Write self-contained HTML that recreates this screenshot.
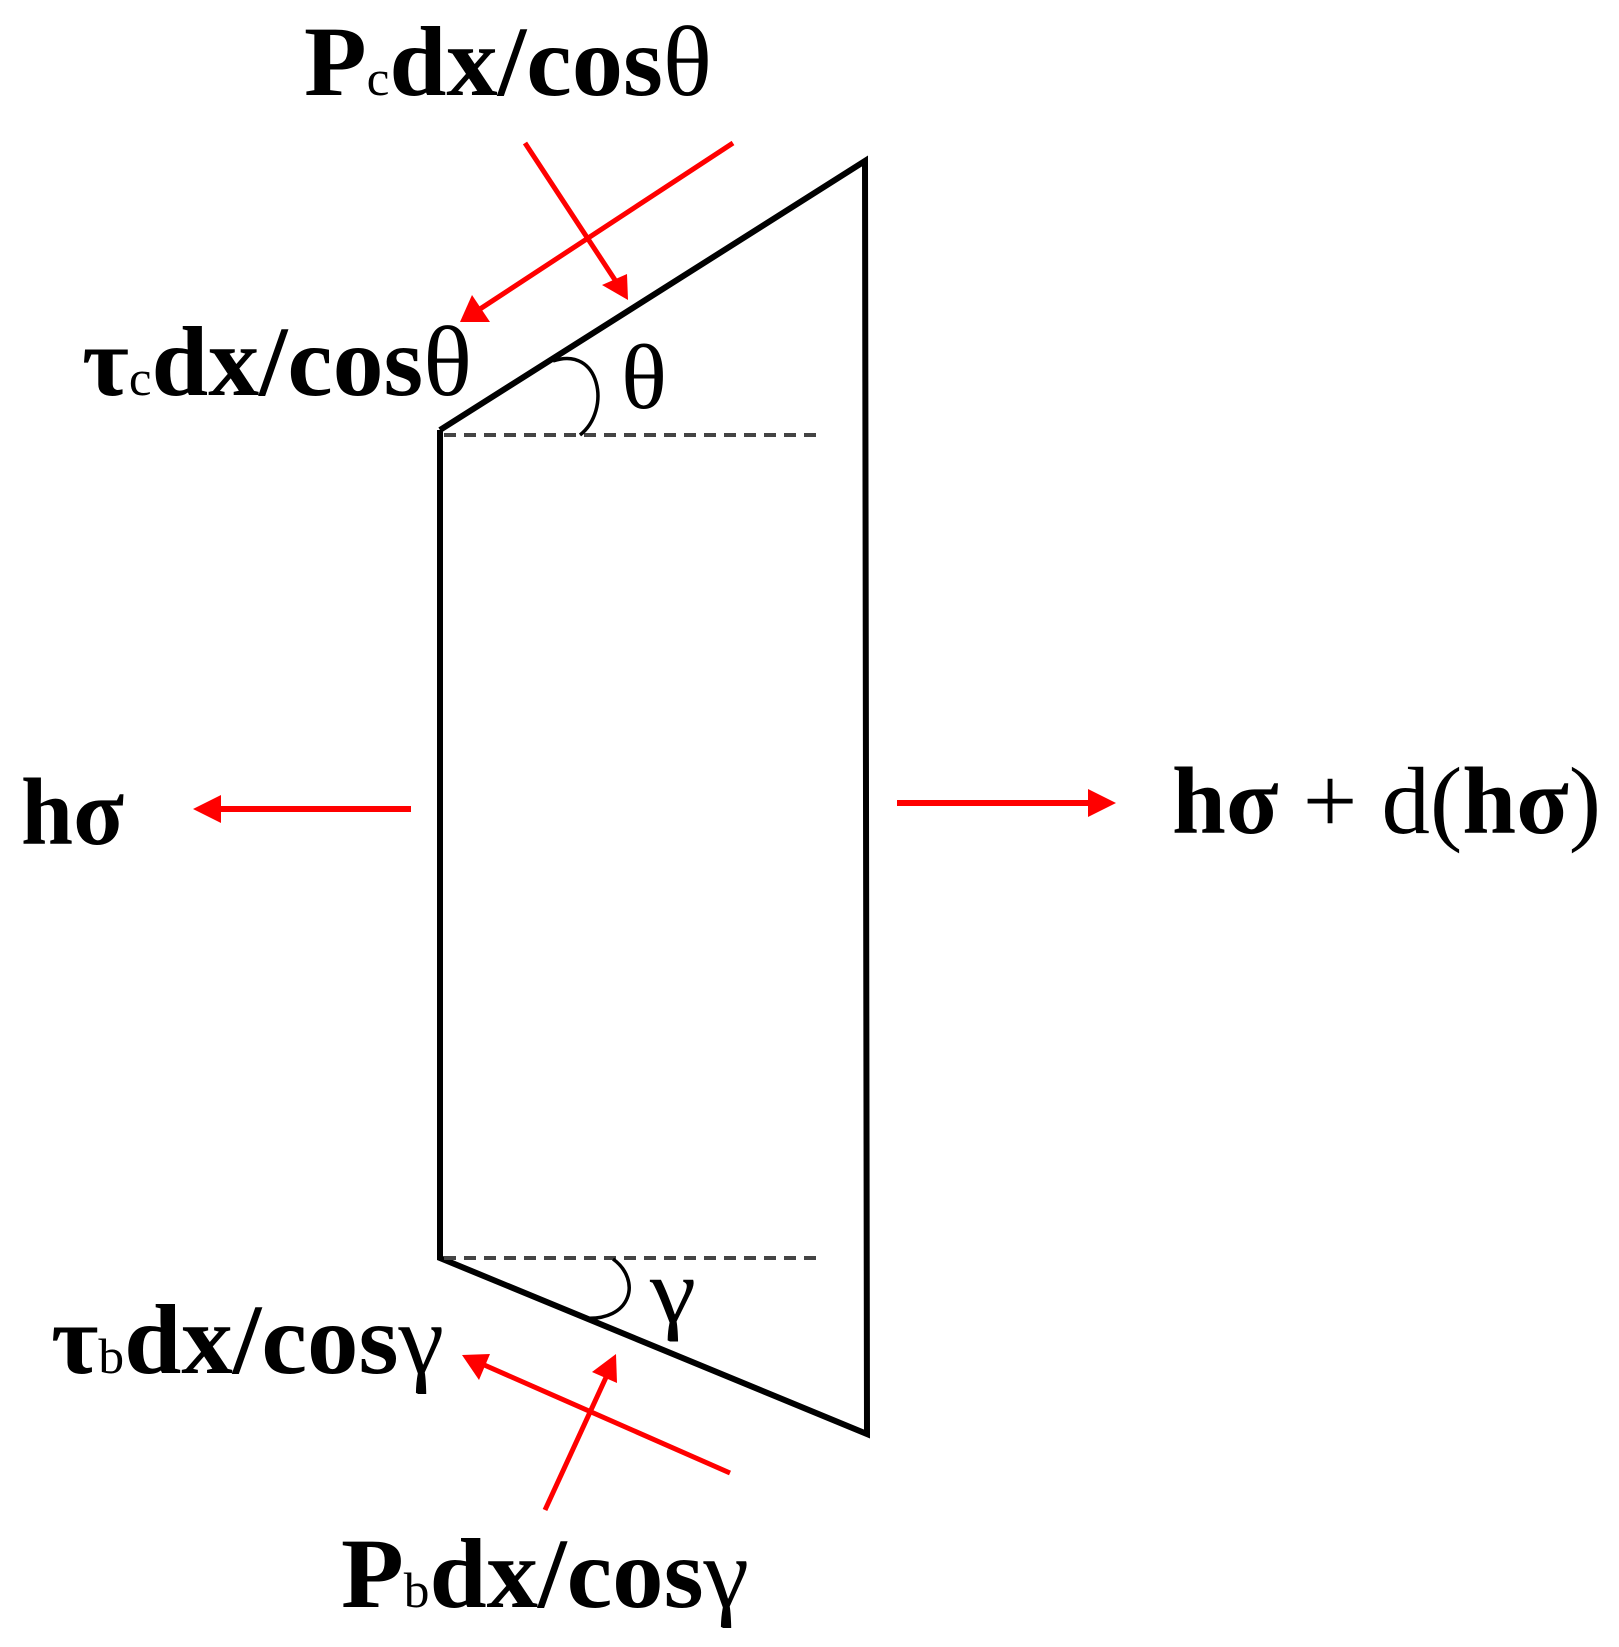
<!DOCTYPE html>
<html><head><meta charset="utf-8"><style>
html,body{margin:0;padding:0;background:#fff;}
svg{display:block;}
text{font-family:"Liberation Serif",serif;fill:#000;}
.b{font-weight:bold;}
</style></head><body>
<svg width="1619" height="1647" viewBox="0 0 1619 1647" xmlns="http://www.w3.org/2000/svg">
<!-- trapezoid -->
<polyline points="440,430 865,161 867,1434 440,1258 440,430" fill="none" stroke="#000" stroke-width="6" stroke-linejoin="miter"/>
<!-- dashed lines -->
<line x1="444" y1="435" x2="823" y2="435" stroke="#444" stroke-width="4" stroke-dasharray="12,8"/>
<line x1="444" y1="1258" x2="823" y2="1258" stroke="#444" stroke-width="4" stroke-dasharray="12,8"/>
<!-- arcs -->
<path d="M553 361 C600 345,612 410,580 435" fill="none" stroke="#000" stroke-width="3.5"/>
<path d="M613 1259 C642 1280,632 1322,583 1318" fill="none" stroke="#000" stroke-width="3.5"/>
<!-- red arrows -->
<g stroke="#f00" stroke-width="5" fill="#f00">
<line x1="733" y1="143" x2="480" y2="309"/>
<polygon points="460,322 472,295 490,322" stroke="none"/>
<line x1="525" y1="143" x2="615" y2="280"/>
<polygon points="628,300 602,285 627,274" stroke="none"/>
<line x1="730" y1="1473" x2="482" y2="1364"/>
<polygon points="462,1355 490,1354 479,1380" stroke="none"/>
<line x1="545" y1="1510" x2="608" y2="1373"/>
<polygon points="616,1354 617,1383 592,1372" stroke="none"/>
<line x1="411" y1="809" x2="220" y2="809" stroke-width="6"/>
<polygon points="193,809 221,795 221,823" stroke="none"/>
<line x1="897" y1="803" x2="1090" y2="803" stroke-width="6"/>
<polygon points="1116,803 1088,789 1088,817" stroke="none"/>
</g>
<!-- labels -->
<text x="304" y="95" font-size="100" class="b" textLength="408" lengthAdjust="spacingAndGlyphs">P<tspan font-size="50" font-weight="normal">c</tspan>dx/cos<tspan font-weight="normal">θ</tspan></text>
<text x="82" y="395" font-size="100" class="b" textLength="390" lengthAdjust="spacingAndGlyphs">τ<tspan font-size="50" font-weight="normal">c</tspan>dx/cos<tspan font-weight="normal">θ</tspan></text>
<text x="51" y="1373" font-size="100" class="b" textLength="393" lengthAdjust="spacingAndGlyphs">τ<tspan font-size="50" font-weight="normal">b</tspan>dx/cos<tspan font-weight="normal">γ</tspan></text>
<text x="341" y="1607" font-size="100" class="b" textLength="408" lengthAdjust="spacingAndGlyphs">P<tspan font-size="50" font-weight="normal">b</tspan>dx/cos<tspan font-weight="normal">γ</tspan></text>
<text x="621" y="408" font-size="92" textLength="46" lengthAdjust="spacingAndGlyphs">θ</text>
<text x="650" y="1322" font-size="92" textLength="46" lengthAdjust="spacingAndGlyphs">γ</text>
<text x="21" y="844" font-size="95" class="b" textLength="103" lengthAdjust="spacingAndGlyphs">hσ</text>
<text x="1172" y="833" font-size="95" textLength="429" lengthAdjust="spacingAndGlyphs"><tspan font-weight="bold">hσ</tspan> + d(<tspan font-weight="bold">hσ</tspan>)</text>
</svg>
</body></html>
